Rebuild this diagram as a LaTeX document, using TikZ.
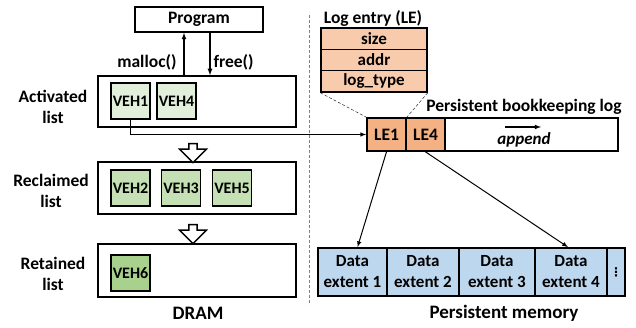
\documentclass[tikz,border=0pt]{standalone}
\usepackage{fontspec}
\setmainfont{Carlito}
\newfontfamily\dotsfont{DejaVu Sans}
\usepackage{tikz}
\usetikzlibrary{shapes.arrows}

\definecolor{vehnew}{HTML}{E2EFDA}
\definecolor{vehfree}{HTML}{C5E0B4}
\definecolor{vehkeep}{HTML}{A9D18E}
\definecolor{lefield}{HTML}{F8CBAD}
\definecolor{lecell}{HTML}{F4B183}
\definecolor{extent}{HTML}{BDD7EE}

\begin{document}
\begin{tikzpicture}[x=1pt, y=-1pt, font=\fontsize{17.5}{21}\selectfont\bfseries, >=latex]
    \tikzstyle{listbox} = [rectangle, draw, line width=1.7pt, inner sep=0pt, minimum width=198pt]
    \tikzstyle{veh} = [rectangle, draw, line width=1.7pt, inner sep=0pt, minimum width=39pt, minimum height=36pt, font=\fontsize{16}{19}\selectfont\bfseries]
    \tikzstyle{lerow} = [rectangle, draw, line width=1.5pt, fill=lefield, inner sep=0pt, minimum width=106pt, minimum height=21.3pt, font=\fontsize{17}{20}\selectfont\bfseries]
    \tikzstyle{lecell} = [rectangle, draw, line width=1.7pt, fill=lecell, inner sep=0pt, minimum width=39pt, minimum height=33pt]
    \tikzstyle{extentbox} = [rectangle, draw, line width=1.7pt, fill=extent, inner sep=0pt, minimum height=48pt, align=center, font=\fontsize{17}{21}\selectfont\bfseries]
    \tikzstyle{sidelabel} = [align=center, font=\fontsize{17.5}{21}\selectfont\bfseries]
    \tikzstyle{hollow} = [single arrow, draw, line width=1.4pt, fill=white, shape border rotate=270, minimum width=27pt, minimum height=19pt, single arrow head extend=6pt, inner sep=2pt]

    \useasboundingbox (0,0) rectangle (636,328);

    % DRAM side
    \node[rectangle, draw, line width=1.7pt, minimum width=128pt, minimum height=25pt, inner sep=0pt] (prog) at (199,19.5) {Program};

    \node[listbox, minimum height=51pt] (act) at (197,101.5) {};
    \node[listbox, minimum height=52pt] (rec) at (197,188) {};
    \node[listbox, minimum height=53pt] (ret) at (197,270.5) {};

    \node[sidelabel] (actl) at (53,107) {Activated\\list};
    \node[sidelabel] (recl) at (51,191) {Reclaimed\\list};
    \node[sidelabel] (retl) at (53,274) {Retained\\list};

    \node[veh, fill=vehnew] (veh1) at (130.5,101) {VEH1};
    \node[veh, fill=vehnew] (veh4) at (176.5,101) {VEH4};
    \node[veh, fill=vehfree] (veh2) at (130.5,188) {VEH2};
    \node[veh, fill=vehfree] (veh3) at (181,188) {VEH3};
    \node[veh, fill=vehfree] (veh5) at (232,188) {VEH5};
    \node[veh, fill=vehkeep] (veh6) at (130.5,273) {VEH6};

    \draw[->, line width=1.2pt] ([xshift=-15pt]prog.south |- act.north) -- ([xshift=-15pt]prog.south);
    \draw[->, line width=1.2pt] ([xshift=11pt]prog.south) -- ([xshift=11pt]prog.south |- act.north);
    \node[anchor=east] (malloc) at (180,62) {malloc()};
    \node[anchor=west] (free) at (210,62) {free()};

    % hollow arrows between lists
    \node[hollow] (down1) at (193,151) {};
    \node[hollow] (down2) at (193,232) {};

    \node[font=\fontsize{19}{22}\selectfont\bfseries] (dram) at (198,313) {DRAM};

    % separator
    \draw[densely dashed, gray, line width=0.8pt] (309,15) -- (309,305);

    % Log entry layout
    \node (lehead) at (373,18) {Log entry (LE)};
    \node[lerow] (lesize) at (374,38.7) {size};
    \node[lerow] (leaddr) at (374,60) {addr};
    \node[lerow] (letype) at (374,81.3) {log\_type};

    % Persistent bookkeeping log
    \node (logl) at (524,107) {Persistent bookkeeping log};
    \node[rectangle, draw, line width=1.7pt, inner sep=0pt, minimum width=251pt, minimum height=33pt] (logbox) at (492.5,134.5) {};
    \node[lecell] (le1) at (386.5,134.5) {LE1};
    \node[lecell] (le4) at (425.5,134.5) {LE4};
    \draw[densely dashed, thin] (letype.south west) -- (le1.north west);
    \draw[densely dashed, thin] (letype.south east) -- (le1.north east);
    \coordinate (appfrom) at (505,127);
    \coordinate (appto) at (541,127);
    \draw[->, line width=1.1pt] (appfrom) -- (appto);
    \node[font=\fontsize{17}{20}\selectfont\bfseries\itshape] (append) at (524,140) {append};

    \draw[->, line width=1pt] (veh1.south) |- (le1.west);

    % Data extents
    \node[extentbox, minimum width=69pt] (de1) at (352.5,272) {Data\\extent 1};
    \node[extentbox, minimum width=72pt] (de2) at (423,272) {Data\\extent 2};
    \node[extentbox, minimum width=76pt] (de3) at (497,272) {Data\\extent 3};
    \node[extentbox, minimum width=72pt] (de4) at (571,272) {Data\\extent 4};
    \node[extentbox, minimum width=18pt, font=\fontsize{12}{14}\dotsfont\bfseries] (dots) at (616,272) {⋮};

    \draw[->, line width=1pt] (le1.south) -- ([xshift=5pt]de1.north);
    \draw[->, line width=1pt] (le4.south) -- ([xshift=-3pt]de4.north);

    \node[font=\fontsize{19}{22}\selectfont\bfseries] (pmem) at (504,313) {Persistent memory};
\end{tikzpicture}
\end{document}
